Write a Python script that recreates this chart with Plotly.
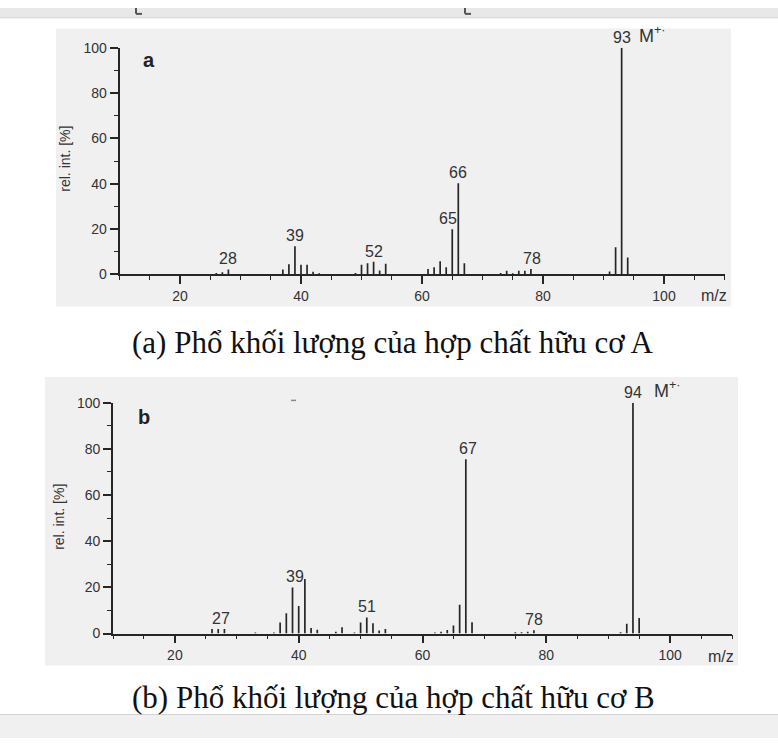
import plotly.graph_objects as go

W, H = 778, 746

# ---------------- data ----------------
mz_a = [26, 27, 28, 37, 38, 39, 40, 41, 42, 43, 49, 50, 51, 52, 53, 54,
        61, 62, 63, 64, 65, 66, 67, 73, 74, 75, 76, 77, 78, 91, 92, 93, 94]
int_a = [0.7, 1.0, 2.2, 2.2, 4.5, 12.5, 4.3, 4.3, 1.2, 0.5, 0.7, 4.3, 5.0, 5.6, 1.7, 4.7,
         2.4, 3.2, 5.8, 3.2, 20.0, 40.2, 4.9, 0.7, 1.6, 0.5, 1.6, 1.6, 2.4, 1.3, 12.0, 100.0, 7.5]

mz_b = [26, 27, 28, 33, 36, 37, 38, 39, 40, 41, 42, 43, 46, 47, 49, 50, 51, 52, 53, 54,
        62, 63, 64, 65, 66, 67, 68, 75, 76, 77, 78, 92, 93, 94, 95]
int_b = [2.0, 2.0, 2.0, 0.5, 0.5, 4.8, 8.8, 20.0, 11.9, 23.6, 2.4, 1.7, 0.8, 2.7, 0.5, 4.8, 7.0, 4.5, 1.3, 2.0,
         0.5, 0.8, 1.5, 3.5, 12.5, 75.5, 4.9, 0.6, 0.6, 0.8, 1.4, 0.6, 4.3, 100.0, 6.8]

labels_a = [28, 39, 52, 65, 66, 78, 93]
label_shift_a = [0, 0, 0, -4, 0, 1, 0]
labels_b = [27, 39, 51, 67, 78, 94]
label_shift_b = [3, 2, 0, 2, 0, 0]

x_ticks = [20, 40, 60, 80, 100]
y_ticks = [0, 20, 40, 60, 80, 100]

caption_a = "(a) Phổ khối lượng của hợp chất hữu cơ A"
caption_b = "(b) Phổ khối lượng của hợp chất hữu cơ B"
y_title = "rel. int. [%]"

# ---------------- helpers ----------------
def px(x):
    return x / W

def py(y):
    return 1 - y / H

INK = "#262626"
TXT = "#333333"
SANS = "Liberation Sans, Arial, sans-serif"
SERIF = "Liberation Serif, Times New Roman, serif"


def stems(mz, inten):
    xs, ys = [], []
    for m, v in zip(mz, inten):
        xs += [m, m, None]
        ys += [0, v, None]
    return xs, ys


fig = go.Figure()
xa, ya = stems(mz_a, int_a)
xb, yb = stems(mz_b, int_b)
fig.add_trace(go.Scatter(x=xa, y=ya, mode="lines", line=dict(color=INK, width=1.7),
                         xaxis="x", yaxis="y", cliponaxis=False, hoverinfo="skip", showlegend=False))
fig.add_trace(go.Scatter(x=xb, y=yb, mode="lines", line=dict(color=INK, width=1.7),
                         xaxis="x2", yaxis="y2", cliponaxis=False, hoverinfo="skip", showlegend=False))


def xaxis_cfg(domain, anchor):
    return dict(domain=domain, anchor=anchor, range=[10, 110], tickvals=x_ticks,
                showgrid=False, zeroline=False, showline=True, linecolor=INK, linewidth=1.8,
                ticks="outside", ticklen=8, tickwidth=1.6, tickcolor=INK,
                minor=dict(dtick=5, tick0=0, ticks="outside", ticklen=4, tickwidth=1.4, tickcolor=INK),
                tickfont=dict(family=SANS, size=14, color=TXT), fixedrange=True)


def yaxis_cfg(domain, anchor):
    return dict(domain=domain, anchor=anchor, range=[0, 100], tickvals=y_ticks,
                showgrid=False, zeroline=False, showline=True, linecolor=INK, linewidth=1.8,
                ticks="outside", ticklen=8, tickwidth=1.6, tickcolor=INK,
                minor=dict(dtick=10, tick0=0, ticks="outside", ticklen=4, tickwidth=1.4, tickcolor=INK),
                tickfont=dict(family=SANS, size=14, color=TXT), fixedrange=True)


# panel a: m/z 10 -> 119.5px, 110 -> 724.5px ; 100% -> 40.7px, 0 -> 272.3px
# panel b: m/z 10 -> 113px, 110 -> 732px ; 100% -> 403.3px, 0 -> 639.3px
fig.update_layout(
    width=W, height=H, margin=dict(l=0, r=0, t=0, b=0),
    paper_bgcolor="white", plot_bgcolor="rgba(0,0,0,0)",
    xaxis=xaxis_cfg([px(119.5), px(724.5)], "y"),
    yaxis=yaxis_cfg([py(272.3), py(40.7)], "x"),
    xaxis2=xaxis_cfg([px(113), px(732)], "y2"),
    yaxis2=yaxis_cfg([py(639.3), py(403.3)], "x2"),
)

shapes = [
    # top browser-like bar
    dict(type="rect", xref="paper", yref="paper", x0=0, x1=1, y0=py(10), y1=1,
         fillcolor="#e8e8e8", line=dict(width=0), layer="below"),
    dict(type="line", xref="paper", yref="paper", x0=0, x1=1, y0=py(10), y1=py(10),
         line=dict(color="#d6d6d6", width=1)),
    dict(type="line", xref="paper", yref="paper", x0=px(136), x1=px(136), y0=py(0), y1=py(6),
         line=dict(color="#555555", width=2)),
    dict(type="line", xref="paper", yref="paper", x0=px(136), x1=px(142), y0=py(6), y1=py(6),
         line=dict(color="#555555", width=2)),
    dict(type="line", xref="paper", yref="paper", x0=px(465), x1=px(465), y0=py(0), y1=py(6),
         line=dict(color="#555555", width=2)),
    dict(type="line", xref="paper", yref="paper", x0=px(465), x1=px(471), y0=py(6), y1=py(6),
         line=dict(color="#555555", width=2)),
    # panel backgrounds
    dict(type="rect", xref="paper", yref="paper", x0=px(56), x1=px(731), y0=py(305), y1=py(21),
         fillcolor="#f0f0f0", line=dict(width=0), layer="below"),
    dict(type="rect", xref="paper", yref="paper", x0=px(45), x1=px(738), y0=py(672), y1=py(377),
         fillcolor="#f0f0f0", line=dict(width=0), layer="below"),
    # small artifact dash in panel b
    dict(type="line", xref="paper", yref="paper", x0=px(291), x1=px(296), y0=py(401), y1=py(401),
         line=dict(color="#888888", width=1.5)),
    # bottom bar
    dict(type="rect", xref="paper", yref="paper", x0=0, x1=1, y0=0, y1=py(722),
         fillcolor="#f0f0f0", line=dict(width=0), layer="below"),
    dict(type="line", xref="paper", yref="paper", x0=0, x1=1, y0=py(722), y1=py(722),
         line=dict(color="#d4d4d4", width=1)),
]


def pa(x, y, text, size, family=SANS, color=TXT, angle=0):
    return dict(x=px(x), y=py(y), xref="paper", yref="paper", text=text, showarrow=False,
                xanchor="center", yanchor="middle", textangle=angle,
                font=dict(family=family, size=size, color=color))


ann = []
# peak labels
for m, s in zip(labels_a, label_shift_a):
    v = int_a[mz_a.index(m)]
    ann.append(dict(x=m, y=v, xref="x", yref="y", text=str(m), showarrow=False,
                    xanchor="center", yanchor="bottom", xshift=s, yshift=0,
                    font=dict(family=SANS, size=16, color=TXT)))
for m, s in zip(labels_b, label_shift_b):
    v = int_b[mz_b.index(m)]
    ann.append(dict(x=m, y=v, xref="x2", yref="y2", text=str(m), showarrow=False,
                    xanchor="center", yanchor="bottom", xshift=s, yshift=0,
                    font=dict(family=SANS, size=16, color=TXT)))
# molecular ion markers
ann.append(dict(x=93, y=100, xref="x", yref="y", text="M<sup>+·</sup>", showarrow=False,
                xanchor="left", yanchor="bottom", xshift=15, yshift=0,
                font=dict(family=SANS, size=18, color=TXT)))
ann.append(dict(x=94, y=100, xref="x2", yref="y2", text="M<sup>+·</sup>", showarrow=False,
                xanchor="left", yanchor="bottom", xshift=19, yshift=0,
                font=dict(family=SANS, size=18, color=TXT)))
# panel letters
ann.append(pa(148.5, 53, "<b>a</b>", 20, color="#222222"))
ann.append(pa(144, 418, "<b>b</b>", 20, color="#222222"))
# y titles
ann.append(pa(65, 154, y_title, 14, angle=-90))
ann.append(pa(59, 520, y_title, 14, angle=-90))
# m/z labels
ann.append(pa(714, 294, "m/z", 16))
ann.append(pa(721, 663, "m/z", 16))
# captions
ann.append(pa(393, 342, caption_a, 31, family=SERIF, color="#111111"))
ann.append(pa(393, 705, caption_b, 31, family=SERIF, color="#111111"))

fig.update_layout(shapes=shapes, annotations=ann)
fig.write_html("out.html", config={"displayModeBar": False},
               post_script="document.body.style.margin='0';document.body.style.overflow='hidden';")
